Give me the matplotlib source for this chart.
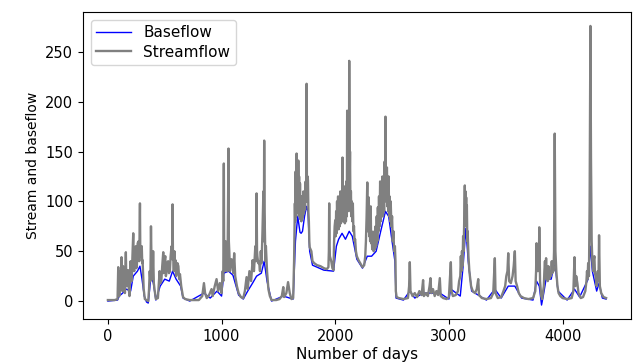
import numpy as np
import matplotlib.pyplot as plt

# =========================
# data (day, flow)
# =========================
stream_days = [
    0, 60, 85, 91, 100, 106, 112, 116, 120, 128, 134, 140, 145, 150, 158, 162, 166, 172, 178, 184,
    190, 195, 200, 205, 210, 216, 223, 228, 232, 238, 245, 250, 255, 262, 270, 276, 282, 285, 288, 293,
    298, 302, 305, 310, 315, 325, 340, 355, 362, 368, 374, 379, 384, 388, 393, 398, 404, 410, 422, 440,
    455, 462, 470, 478, 487, 491, 495, 500, 505, 510, 515, 522, 530, 538, 545, 552, 560, 565, 569, 572,
    575, 580, 585, 590, 595, 600, 605, 612, 620, 627, 634, 645, 661, 680, 720, 800, 830, 845, 855, 870,
    890, 912, 922, 940, 956, 970, 985, 1000, 1010, 1015, 1020, 1023, 1026, 1030, 1035, 1040, 1045, 1052, 1061, 1064,
    1068, 1074, 1080, 1088, 1095, 1103, 1111, 1120, 1135, 1150, 1170, 1191, 1205, 1220, 1230, 1245, 1260, 1273, 1285, 1297,
    1303, 1308, 1312, 1315, 1322, 1330, 1338, 1345, 1352, 1360, 1368, 1372, 1375, 1378, 1381, 1386, 1390, 1400, 1412, 1425,
    1440, 1480, 1510, 1530, 1543, 1550, 1570, 1585, 1600, 1615, 1630, 1638, 1642, 1645, 1648, 1652, 1656, 1660, 1664, 1668,
    1672, 1675, 1679, 1682, 1686, 1690, 1694, 1698, 1702, 1705, 1709, 1712, 1716, 1720, 1725, 1730, 1735, 1740, 1744, 1748,
    1751, 1754, 1757, 1760, 1764, 1768, 1772, 1775, 1790, 1800, 1815, 1840, 1870, 1900, 1925, 1940, 1944, 1947, 1950, 1953,
    1965, 1975, 1985, 1990, 1995, 2000, 2004, 2008, 2012, 2016, 2020, 2025, 2030, 2035, 2040, 2045, 2050, 2055, 2060, 2064,
    2068, 2072, 2076, 2080, 2085, 2090, 2094, 2098, 2102, 2105, 2109, 2112, 2115, 2118, 2121, 2123, 2127, 2130, 2134, 2138,
    2142, 2145, 2150, 2155, 2160, 2165, 2170, 2175, 2182, 2190, 2205, 2220, 2240, 2255, 2264, 2270, 2276, 2282, 2286, 2290,
    2295, 2299, 2303, 2307, 2312, 2316, 2320, 2325, 2330, 2338, 2345, 2350, 2355, 2360, 2365, 2370, 2375, 2380, 2385, 2390,
    2395, 2400, 2405, 2410, 2415, 2420, 2425, 2430, 2435, 2439, 2442, 2446, 2450, 2455, 2459, 2462, 2466, 2470, 2474, 2478,
    2483, 2488, 2494, 2500, 2506, 2512, 2518, 2525, 2530, 2533, 2540, 2560, 2600, 2640, 2650, 2656, 2662, 2680, 2700, 2720,
    2740, 2760, 2773, 2780, 2800, 2815, 2830, 2838, 2845, 2860, 2875, 2890, 2905, 2920, 2928, 2950, 2980, 3000, 3017, 3023,
    3035, 3060, 3080, 3090, 3100, 3105, 3110, 3115, 3120, 3125, 3130, 3135, 3140, 3143, 3146, 3149, 3152, 3155, 3158, 3162,
    3165, 3172, 3180, 3195, 3210, 3230, 3245, 3258, 3265, 3290, 3330, 3370, 3390, 3404, 3410, 3430, 3460, 3480, 3495, 3505,
    3515, 3522, 3530, 3545, 3560, 3570, 3580, 3587, 3600, 3615, 3630, 3660, 3700, 3740, 3760, 3767, 3771, 3775, 3778, 3783,
    3788, 3792, 3795, 3802, 3812, 3820, 3835, 3840, 3845, 3850, 3855, 3860, 3865, 3870, 3875, 3882, 3890, 3897, 3905, 3910,
    3915, 3920, 3925, 3931, 3937, 3945, 3955, 3965, 3980, 4000, 4040, 4080, 4095, 4105, 4112, 4120, 4130, 4140, 4160, 4180,
    4200, 4210, 4215, 4220, 4225, 4232, 4238, 4245, 4250, 4256, 4262, 4270, 4275, 4280, 4285, 4290, 4300, 4310, 4316, 4321,
    4328, 4340, 4360, 4383,
]
stream_vals = [
    1, 1, 2, 34, 5, 20, 30, 12, 44, 10, 35, 30, 12, 8, 49, 20, 15, 28, 31, 12,
    5, 25, 40, 22, 20, 45, 68, 32, 30, 50, 55, 33, 35, 58, 60, 40, 98, 50, 45, 52,
    55, 38, 41, 25, 12, 2, 1, 0, 12, 30, 20, 75, 35, 40, 22, 50, 18, 12, 2, 3,
    30, 18, 20, 35, 49, 28, 30, 42, 45, 25, 28, 38, 40, 28, 30, 45, 55, 42, 97, 50,
    45, 30, 50, 32, 41, 25, 30, 38, 35, 22, 27, 15, 4, 2, 1, 1, 5, 18, 8, 3,
    6, 12, 5, 15, 22, 10, 18, 8, 30, 20, 138, 50, 45, 30, 60, 35, 40, 30, 153, 60,
    50, 30, 35, 42, 40, 28, 48, 25, 15, 8, 4, 3, 10, 24, 12, 30, 20, 41, 30, 55,
    40, 108, 50, 45, 38, 40, 30, 50, 38, 70, 110, 60, 161, 90, 70, 40, 55, 30, 12, 5,
    1, 1, 2, 5, 14, 4, 8, 19, 8, 2, 3, 40, 75, 98, 80, 130, 85, 148, 95, 130,
    90, 141, 88, 125, 85, 118, 82, 100, 80, 105, 82, 95, 85, 110, 88, 100, 92, 120, 100, 218,
    110, 100, 125, 121, 90, 80, 60, 54, 50, 40, 38, 36, 35, 33, 32, 34, 50, 98, 55, 45,
    40, 33, 31, 60, 75, 81, 65, 90, 68, 100, 75, 105, 72, 95, 75, 110, 78, 95, 80, 144,
    85, 110, 80, 115, 78, 100, 80, 120, 85, 191, 90, 130, 92, 150, 110, 241, 120, 150, 90, 110,
    85, 100, 80, 98, 70, 75, 60, 62, 50, 45, 41, 38, 34, 36, 45, 60, 85, 119, 70, 90,
    104, 65, 80, 60, 95, 58, 70, 52, 65, 50, 70, 52, 75, 55, 85, 60, 94, 70, 105, 75,
    120, 80, 110, 85, 125, 85, 115, 90, 140, 100, 185, 110, 130, 134, 95, 115, 90, 125, 85, 105,
    80, 100, 75, 85, 60, 70, 50, 55, 40, 10, 4, 3, 2, 3, 15, 39, 10, 5, 8, 4,
    10, 6, 21, 5, 8, 5, 15, 23, 8, 12, 5, 10, 6, 23, 5, 3, 2, 4, 39, 10,
    5, 6, 10, 20, 25, 45, 30, 50, 35, 65, 50, 85, 116, 80, 110, 85, 104, 75, 96, 60,
    70, 45, 30, 15, 10, 8, 12, 22, 6, 3, 2, 3, 8, 43, 8, 3, 4, 10, 15, 25,
    30, 48, 20, 18, 25, 35, 50, 20, 15, 8, 5, 3, 2, 3, 10, 30, 58, 35, 40, 30,
    50, 40, 74, 20, 5, 2, 15, 30, 40, 25, 43, 22, 25, 20, 35, 22, 30, 25, 40, 28,
    35, 30, 50, 168, 50, 30, 15, 8, 5, 3, 2, 3, 10, 44, 15, 25, 18, 8, 3, 4,
    10, 20, 30, 22, 38, 25, 98, 276, 143, 60, 40, 30, 42, 45, 28, 25, 15, 30, 20, 66,
    15, 8, 4, 3,
]

base_days = [
    0, 85, 100, 130, 160, 200, 223, 260, 282, 300, 320, 340, 355, 379, 400, 422, 460, 500, 540, 569,
    600, 640, 661, 720, 845, 900, 960, 1000, 1020, 1061, 1100, 1150, 1191, 1230, 1273, 1308, 1350, 1375, 1400, 1440,
    1543, 1600, 1630, 1650, 1670, 1690, 1700, 1712, 1730, 1748, 1760, 1775, 1800, 1900, 1985, 2010, 2030, 2060, 2090, 2123,
    2150, 2190, 2240, 2282, 2320, 2360, 2400, 2442, 2470, 2500, 2525, 2535, 2600, 2656, 2700, 2773, 2838, 2920, 3000, 3017,
    3100, 3125, 3149, 3170, 3200, 3258, 3330, 3404, 3460, 3522, 3580, 3640, 3740, 3771, 3795, 3815, 3830, 3855, 3900, 3931,
    3960, 4040, 4105, 4150, 4225, 4245, 4262, 4300, 4321, 4350, 4383,
]
base_vals = [
    0, 1, 5, 8, 12, 10, 25, 30, 35, 22, 5, -1, -2, 25, 18, 1, 15, 22, 20, 30,
    22, 15, 3, 0, 8, 3, 10, 5, 28, 30, 26, 6, 2, 10, 18, 25, 28, 40, 20, 0,
    5, 3, 2, 60, 85, 69, 68, 70, 85, 95, 90, 50, 36, 31, 30, 55, 62, 68, 62, 70,
    65, 42, 33, 45, 45, 50, 70, 90, 85, 60, 40, 3, 1, 10, 3, 8, 8, 8, 2, 12,
    5, 35, 73, 40, 10, 6, 1, 12, 3, 15, 15, 3, 1, 20, 15, -4, 5, 22, 22, 40,
    10, 1, 12, 4, 22, 55, 30, 10, 18, 3, 2,
]

# =========================
# plot
# =========================
fig = plt.figure(figsize=(6.33, 3.64), dpi=100)
ax = fig.add_axes([83 / 633, 45 / 364, 548 / 633, 307 / 364])

ax.plot(base_days, base_vals, color="blue", linewidth=1.0, label="Baseflow")
ax.plot(stream_days, stream_vals, color="gray", linewidth=1.7, label="Streamflow")

ax.set_xlim(-219, 4602)
ax.set_ylim(-18, 290)
ax.set_xticks([0, 1000, 2000, 3000, 4000])
ax.set_yticks([0, 50, 100, 150, 200, 250])
ax.tick_params(labelsize=10.5)
ax.set_xlabel("Number of days", fontsize=11, labelpad=2)
ax.set_ylabel("Stream and baseflow", fontsize=10)
ax.legend(loc="upper left", fontsize=11, handlelength=2.3,
          labelspacing=0.3, borderpad=0.35)

plt.savefig("out.png", dpi=100)
